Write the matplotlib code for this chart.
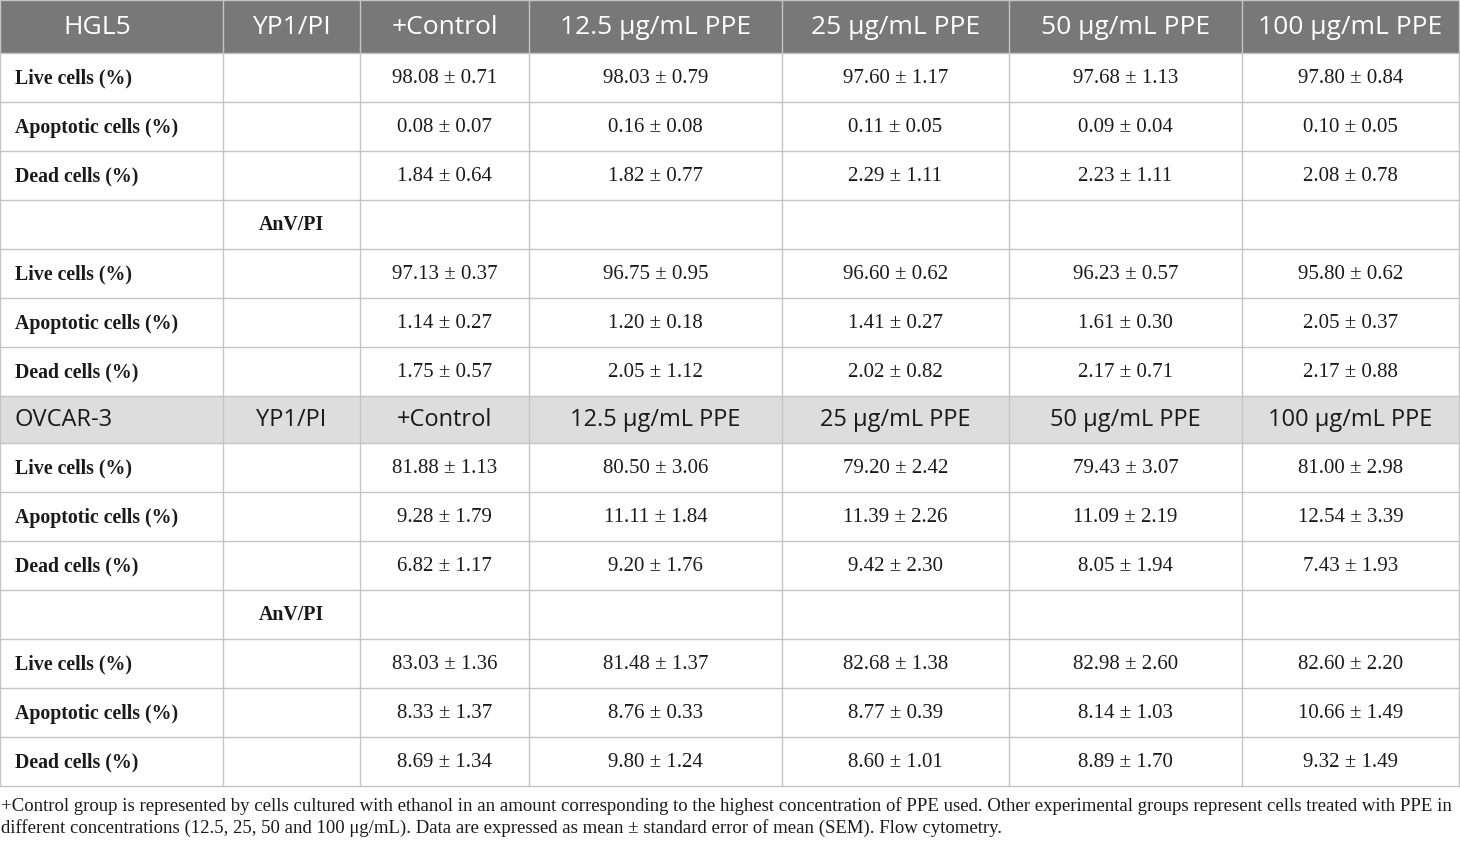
import matplotlib
matplotlib.use("Agg")
import matplotlib.pyplot as plt
from matplotlib.patches import Rectangle

# ── table content ──────────────────────────────────────────────────────────
doses = ["+Control", "12.5 μg/mL PPE", "25 μg/mL PPE", "50 μg/mL PPE", "100 μg/mL PPE"]
cell_lines = ["HGL5", "OVCAR-3"]
row_labels = ["Live cells (%)", "Apoptotic cells (%)", "Dead cells (%)"]

hgl5_yp1 = [
    ["98.08 ± 0.71", "98.03 ± 0.79", "97.60 ± 1.17", "97.68 ± 1.13", "97.80 ± 0.84"],
    ["0.08 ± 0.07", "0.16 ± 0.08", "0.11 ± 0.05", "0.09 ± 0.04", "0.10 ± 0.05"],
    ["1.84 ± 0.64", "1.82 ± 0.77", "2.29 ± 1.11", "2.23 ± 1.11", "2.08 ± 0.78"],
]
hgl5_anv = [
    ["97.13 ± 0.37", "96.75 ± 0.95", "96.60 ± 0.62", "96.23 ± 0.57", "95.80 ± 0.62"],
    ["1.14 ± 0.27", "1.20 ± 0.18", "1.41 ± 0.27", "1.61 ± 0.30", "2.05 ± 0.37"],
    ["1.75 ± 0.57", "2.05 ± 1.12", "2.02 ± 0.82", "2.17 ± 0.71", "2.17 ± 0.88"],
]
ovcar_yp1 = [
    ["81.88 ± 1.13", "80.50 ± 3.06", "79.20 ± 2.42", "79.43 ± 3.07", "81.00 ± 2.98"],
    ["9.28 ± 1.79", "11.11 ± 1.84", "11.39 ± 2.26", "11.09 ± 2.19", "12.54 ± 3.39"],
    ["6.82 ± 1.17", "9.20 ± 1.76", "9.42 ± 2.30", "8.05 ± 1.94", "7.43 ± 1.93"],
]
ovcar_anv = [
    ["83.03 ± 1.36", "81.48 ± 1.37", "82.68 ± 1.38", "82.98 ± 2.60", "82.60 ± 2.20"],
    ["8.33 ± 1.37", "8.76 ± 0.33", "8.77 ± 0.39", "8.14 ± 1.03", "10.66 ± 1.49"],
    ["8.69 ± 1.34", "9.80 ± 1.24", "8.60 ± 1.01", "8.89 ± 1.70", "9.32 ± 1.49"],
]
footnote = [
    "+Control group is represented by cells cultured with ethanol in an amount corresponding to the highest "
    "concentration of PPE used. Other experimental groups represent cells treated with PPE in",
    "different concentrations (12.5, 25, 50 and 100 μg/mL). Data are expressed as mean ± standard error of "
    "mean (SEM). Flow cytometry.",
]

# ── layout (pixels) ────────────────────────────────────────────────────────
W, H = 1460, 842
col_x = [0, 223, 360, 529, 782, 1009, 1242, 1459]
row_y = [0, 53, 102, 151, 200, 249, 298, 347, 396, 443, 492, 541, 590, 639, 688, 737, 786]

GRID = "#c4c4c4"
DARK_HDR = "#787878"
LIGHT_HDR = "#dddddd"
TXT = "#1a1a1a"
SANS = "Open Sans"
SERIF = "Liberation Serif"
DATA_FS = 15
LABEL_FS = 14.3

fig = plt.figure(figsize=(W / 100, H / 100), dpi=100)
ax = fig.add_axes([0, 0, 1, 1])
ax.set_xlim(0, W)
ax.set_ylim(H, 0)
ax.axis("off")


def cx(c):
    return (col_x[c] + col_x[c + 1]) / 2


def cy(r):
    return (row_y[r] + row_y[r + 1]) / 2 + 1


def header_row(r, name, fill, color, fs, x_name):
    y0, y1 = row_y[r], row_y[r + 1]
    ax.add_patch(Rectangle((0, y0), col_x[-1], y1 - y0, facecolor=fill, edgecolor="none", zorder=0))
    yc = cy(r)
    ax.text(x_name, yc, name, ha="left", va="center", fontsize=fs, family=SANS, color=color)
    ax.text(cx(1), yc, "YP1/PI", ha="center", va="center", fontsize=fs, family=SANS, color=color)
    for j, d in enumerate(doses):
        ax.text(cx(j + 2), yc, d, ha="center", va="center", fontsize=fs, family=SANS, color=color)


def data_rows(r0, block):
    for i, lab in enumerate(row_labels):
        yc = cy(r0 + i)
        ax.text(15, yc, lab, ha="left", va="center", fontsize=LABEL_FS, family=SERIF,
                weight="bold", color=TXT)
        for j, val in enumerate(block[i]):
            ax.text(cx(j + 2), yc, val, ha="center", va="center", fontsize=DATA_FS,
                    family=SERIF, color=TXT)


def anv_row(r):
    ax.text(cx(1), cy(r), "AnV/PI", ha="center", va="center", fontsize=LABEL_FS, family=SERIF,
            weight="bold", color=TXT)


header_row(0, cell_lines[0], DARK_HDR, "white", 19, 63)
data_rows(1, hgl5_yp1)
anv_row(4)
data_rows(5, hgl5_anv)
header_row(8, cell_lines[1], LIGHT_HDR, TXT, 17, 15)
data_rows(9, ovcar_yp1)
anv_row(12)
data_rows(13, ovcar_anv)

# grid lines
for y in row_y:
    ax.plot([0, col_x[-1]], [y, y], color=GRID, lw=1.0, zorder=1)
for x in col_x:
    ax.plot([x, x], [0, row_y[-1]], color=GRID, lw=1.0, zorder=1)

# footnote
for k, line in enumerate(footnote):
    ax.text(1, 806 + k * 22, line, ha="left", va="center", fontsize=13.5, family=SERIF, color=TXT)

fig.savefig("out.png", dpi=100)
